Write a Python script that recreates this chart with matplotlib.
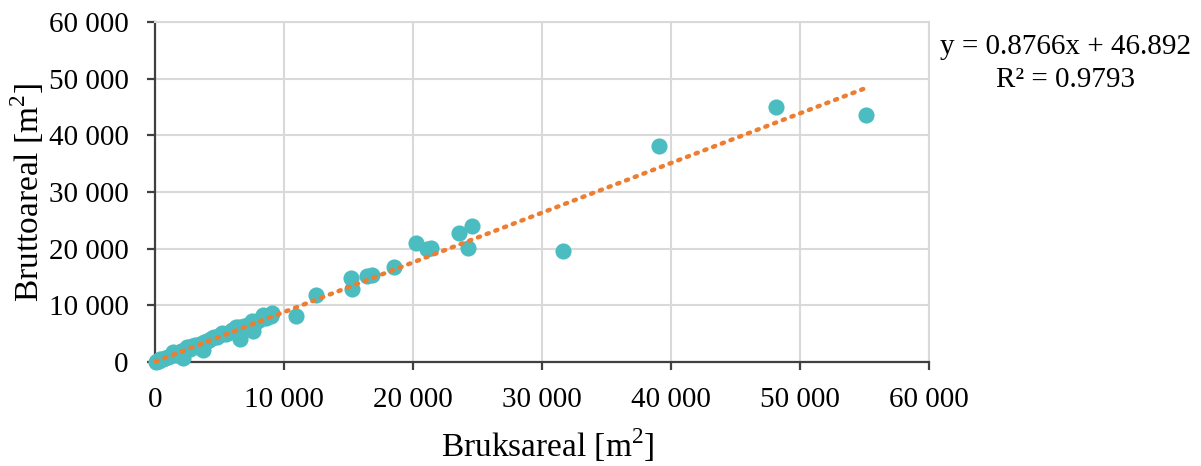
import matplotlib
matplotlib.use("Agg")
import matplotlib.pyplot as plt
import numpy as np
from matplotlib.ticker import FuncFormatter

plt.rcParams['font.family'] = ['Liberation Serif', 'DejaVu Serif']
plt.rcParams['mathtext.fontset'] = 'custom'
plt.rcParams['mathtext.rm'] = 'Liberation Serif'

bruksareal = [50, 150, 300, 400, 600, 800, 1000, 1200, 1400, 1600, 1800, 2000, 2200, 2300,
              2500, 2700, 2900, 3100, 3300, 3500, 3700, 3800, 4000, 4200, 4400, 4600, 4800,
              5000, 5200, 5500, 5800, 6000, 6300, 6500, 6600, 6900, 7200, 7500, 7600, 7800,
              8100, 8400, 8600, 9000, 9100,
              10930, 12480, 15190, 15270, 16430, 16820, 18530, 20230, 21090, 21400,
              23570, 24570, 24260, 31630, 39070, 48140, 55120]
bruttoareal = [80, 200, 250, 500, 450, 700, 900, 1100, 1700, 1300, 1500, 1900, 700, 2200,
               2600, 2300, 2800, 3000, 2600, 3100, 2100, 3500, 3700, 3900, 4200, 4400, 4500,
               4700, 5100, 4900, 5300, 5600, 6100, 6200, 4100, 6300, 6600, 7300, 5500, 7000,
               7500, 8300, 7800, 8100, 8600,
               8200, 11820, 14820, 12880, 15180, 15350, 16770, 21000, 19940, 20120,
               22770, 24000, 20120, 19590, 38120, 45000, 43590]

slope = 0.8766
intercept = 46.892
eq_text = "y = 0.8766x + 46.892"
r2_text = "R² = 0.9793"

W, H = 1201, 466
fig = plt.figure(figsize=(W/100, H/100), dpi=100)
ax = fig.add_axes([155/W, 1-362/H, (929-155)/W, (362-22)/H])

ax.scatter(bruksareal, bruttoareal, s=135, color='#4BBCC0', zorder=3, linewidths=0,
           clip_on=False)
xs = np.array([min(bruksareal), max(bruksareal)])
ax.plot(xs, slope*xs + intercept, color='#ED7D31', linestyle=(0, (0.5, 1.6)),
        linewidth=3.2, dash_capstyle='round', zorder=4, clip_on=False)

ax.set_xlim(0, 60000)
ax.set_ylim(0, 60000)
ticks = np.arange(0, 60001, 10000)
ax.set_xticks(ticks)
ax.set_yticks(ticks)
fmt = FuncFormatter(lambda v, p: f"{int(v):,}".replace(",", " "))
ax.xaxis.set_major_formatter(fmt)
ax.yaxis.set_major_formatter(fmt)
ax.grid(True, color='#D9D9D9', linewidth=1.5, zorder=0)
ax.set_axisbelow(True)
for s in ['top', 'right']:
    ax.spines[s].set_color('#D9D9D9')
    ax.spines[s].set_linewidth(1.5)
for s in ['left', 'bottom']:
    ax.spines[s].set_color('#404040')
    ax.spines[s].set_linewidth(1.6)
ax.tick_params(axis='both', direction='out', length=6, width=1.6, color='#404040',
               labelsize=21, labelcolor='black')
ax.tick_params(axis='x', pad=12)
ax.tick_params(axis='y', pad=13)

ax.set_xlabel(r'Bruksareal [m$^2$]', fontsize=24)
ax.set_ylabel(r'Bruttoareal [m$^2$]', fontsize=24)
ax.xaxis.label.set_va('center')
ax.yaxis.label.set_va('center')
ax.xaxis.set_label_coords(0.508, -0.245)
ax.yaxis.set_label_coords(-0.165, 0.5)

fig.text(1066/W, 1-47/H, eq_text, ha='center', va='center', fontsize=21)
fig.text(1066/W, 1-80/H, r2_text, ha='center', va='center', fontsize=21)

fig.savefig('out.png', dpi=100)
